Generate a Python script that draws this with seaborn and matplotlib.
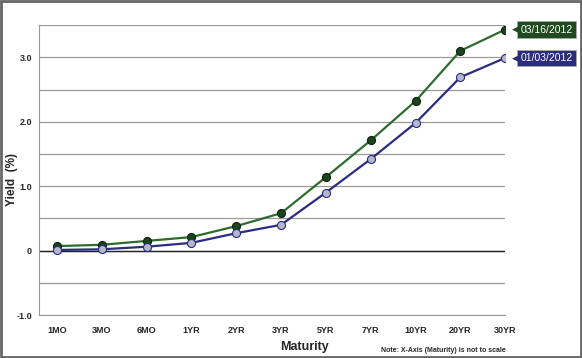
import matplotlib.pyplot as plt
import numpy as np
import pandas as pd
import seaborn as sns

# data
maturities = ["1MO", "3MO", "6MO", "1YR", "2YR", "3YR", "5YR", "7YR", "10YR", "20YR", "30YR"]
yield_0316 = [0.07, 0.09, 0.15, 0.21, 0.38, 0.58, 1.14, 1.71, 2.32, 3.10, 3.43]
yield_0103 = [0.01, 0.02, 0.06, 0.12, 0.27, 0.40, 0.90, 1.42, 1.98, 2.69, 2.99]
dates = ["03/16/2012", "01/03/2012"]

df = pd.DataFrame({
    "pos": list(range(len(maturities))) * 2,
    "yield": yield_0316 + yield_0103,
    "date": [dates[0]] * len(maturities) + [dates[1]] * len(maturities),
})

sns.set_style("white")
plt.rcParams["font.family"] = ["Liberation Sans", "DejaVu Sans"]

green_line, green_dot = "#2e6b2e", "#1b441b"
blue_line, blue_dot = "#2b2b82", "#b4b7cc"
box_colors = {dates[0]: "#1f4a1f", dates[1]: "#2c2c7c"}

fig = plt.figure(figsize=(5.82, 3.58), dpi=100)
ax = fig.add_axes([0.067, 0.12, 0.801, 0.81])

sns.lineplot(data=df[df.date == dates[0]], x="pos", y="yield", color=green_line,
             lw=1.6, marker="o", ms=5.8, mfc=green_dot, mec="#0d200d", mew=0.8, ax=ax)
sns.lineplot(data=df[df.date == dates[1]], x="pos", y="yield", color=blue_line,
             lw=1.6, marker="o", ms=5.8, mfc=blue_dot, mec=blue_line, mew=0.8, ax=ax)

ax.set_xlim(-0.4, 10)
ax.set_ylim(-1.0, 3.5)
ax.set_yticks([-1.0, 0, 1.0, 2.0, 3.0])
ax.set_yticklabels(["-1.0", "0", "1.0", "2.0", "3.0"], fontsize=6.5, fontweight="bold")
ax.set_yticks(np.arange(-0.5, 3.6, 0.5), minor=True)
ax.set_xticks(range(len(maturities)))
ax.set_xticklabels(maturities, fontsize=6.5, fontweight="bold")
ax.grid(axis="y", which="both", color="#999999", lw=0.9)
ax.axhline(0, color="#222222", lw=1.0, zorder=1)
ax.set_axisbelow(True)
ax.tick_params(axis="x", length=3, color="#999999", pad=5)
ax.tick_params(axis="y", which="major", length=3, color="#999999", pad=2)
ax.tick_params(axis="y", which="minor", length=0)
for side in ["top", "right"]:
    ax.spines[side].set_visible(False)
for side in ["left", "bottom"]:
    ax.spines[side].set_color("#999999")
ax.set_xlabel("")
ax.set_ylabel("")

fig.text(0.020, 0.50, "Yield  (%)", rotation=90, ha="center", va="center",
         fontsize=8.5, fontweight="bold")
fig.text(0.524, 0.03, "Maturity", ha="center", va="center", fontsize=9, fontweight="bold")
fig.text(0.762, 0.022, "Note: X-Axis (Maturity) is not to scale", ha="center", va="center",
         fontsize=5, fontweight="bold")

# end-of-line labels
for d, vals in [(dates[0], yield_0316), (dates[1], yield_0103)]:
    c = box_colors[d]
    ax.annotate(d, xy=(len(maturities) - 1, vals[-1]), xytext=(10.8, 0),
                textcoords="offset points", ha="left", va="center", color="white",
                fontsize=7.5, annotation_clip=False,
                bbox=dict(boxstyle="square,pad=0.32", fc=c, ec="#aaaaaa", lw=0.6))
    ax.annotate("\u25C0", xy=(len(maturities) - 1, vals[-1]), xytext=(5.2, 0),
                textcoords="offset points", ha="left", va="center", color=c,
                fontsize=6.5, annotation_clip=False, family="DejaVu Sans")

fig.patches.append(plt.Rectangle((0.002, 0.003), 0.996, 0.994, transform=fig.transFigure,
                                 fill=False, ec="#666666", lw=2))

fig.savefig("out.png", dpi=100)
